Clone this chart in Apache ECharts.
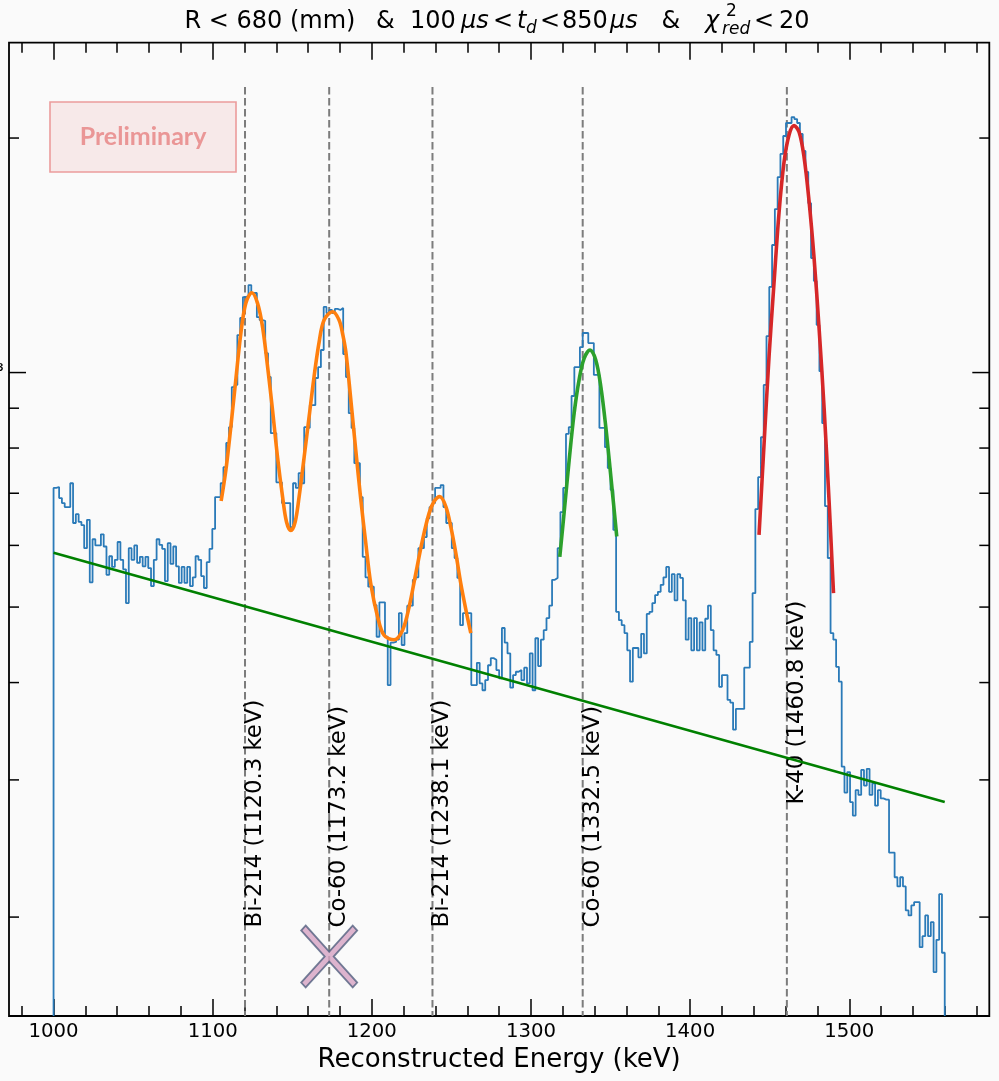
<!DOCTYPE html>
<html>
<head>
<meta charset="utf-8">
<title>Reconstructed energy spectrum</title>
<script src="https://cdn.jsdelivr.net/npm/echarts@6.0.0/dist/echarts.min.js"></script>
<style>
  html, body { margin: 0; padding: 0; background: #fafafa; }
  #chart { width: 999px; height: 1081px; }
</style>
</head>
<body>
<div id="chart"></div>
<script>
// ---------------- data ----------------
// Event counts per bin, 1000–1560 keV, 320 equal bins
const histRange = [1000, 1560];
const counts = [
  711, 713, 690, 680, 672, 672, 721, 641, 658, 643,
  637, 595, 647, 538, 611, 600, 600, 620, 598, 550,
  581, 563, 575, 606, 575, 559, 506, 595, 575, 600,
  570, 580, 564, 580, 561, 532, 575, 611, 601, 594,
  540, 604, 568, 598, 564, 537, 563, 537, 563, 532,
  546, 581, 575, 548, 529, 571, 594, 630, 692, 692,
  721, 756, 812, 851, 958, 964, 1117, 1175, 1250, 1254,
  1295, 1265, 1265, 1178, 1168, 1165, 1059, 987, 836, 836,
  723, 723, 680, 680, 680, 633, 721, 711, 743, 721,
  851, 849, 908, 908, 984, 1016, 1069, 1214, 1192, 1203,
  1192, 1207, 1203, 1210, 1056, 987, 887, 849, 765, 765,
  692, 580, 546, 531, 531, 503, 458, 507, 507, 458,
  397, 450, 451, 454, 491, 447, 463, 502, 502, 542,
  546, 595, 595, 615, 650, 672, 680, 711, 711, 717,
  672, 641, 641, 595, 578, 545, 474, 491, 491, 491,
  397, 397, 424, 399, 391, 403, 421, 430, 428, 415,
  405, 470, 450, 436, 394, 409, 413, 415, 403, 418,
  399, 436, 391, 456, 420, 454, 467, 484, 502, 542,
  545, 595, 662, 711, 834, 851, 933, 1016, 1016, 1078,
  1124, 1124, 1091, 1091, 993, 993, 849, 849, 802, 754,
  707, 628, 493, 481, 474, 463, 440, 401, 443, 443,
  431, 462, 436, 490, 493, 506, 518, 523, 534, 546,
  563, 523, 551, 510, 551, 545, 510, 454, 484, 440,
  484, 440, 478, 440, 483, 502, 467, 440, 434, 395,
  409, 409, 380, 377, 348, 370, 370, 370, 418, 418,
  451, 521, 668, 734, 826, 964, 1114, 1288, 1458, 1621,
  1782, 1908, 2012, 2091, 2091, 2128, 2115, 2091, 2024, 1925,
  1809, 1650, 1403, 1311, 1151, 1004, 861, 674, 578, 463,
  454, 419, 401, 312, 289, 307, 281, 270, 291, 287,
  309, 295, 310, 287, 297, 278, 291, 284, 283, 283,
  242, 242, 225, 219, 225, 219, 204, 201, 207, 209,
  209, 183, 189, 201, 189, 197, 170, 187, 214, 180
];

// Exponential background (straight on the log axis)
const bgEnergy = [1000, 1560];
const bgCounts = [587, 281];

// Bi-214 / Co-60 / Bi-214 multi-peak fit
const fitAEnergy = [1105.3, 1108.3, 1111.4, 1114.5, 1117.7, 1120.8, 1124.6, 1128.2, 1131.3, 1134.5,
  1137.6, 1140.7, 1143.9, 1146.4, 1149.1, 1151.8, 1154.3, 1157.5, 1160.6, 1163.7,
  1166.9, 1170.0, 1175.3, 1179.4, 1181.8, 1183.7, 1186.8, 1189.9, 1193.1, 1196.2,
  1199.3, 1203.6, 1207.7, 1214.0, 1219.3, 1223.4, 1227.6, 1231.8, 1236.0, 1239.1,
  1242.7, 1246.5, 1249.6, 1252.8, 1255.9, 1259.1, 1262.2];
const fitACounts = [684, 750, 852, 978, 1123, 1227, 1266, 1227, 1145, 1017,
  895, 780, 693, 643, 627, 643, 693, 780, 878, 988,
  1095, 1168, 1197, 1168, 1117, 1062, 922, 795, 686, 604,
  536, 486, 460, 454, 467, 500, 552, 609, 660, 683,
  693, 673, 634, 586, 536, 496, 463];

// Co-60 (1332.5 keV) fit
const fitBEnergy = [1318.1, 1320.8, 1324.0, 1327.1, 1330.2, 1333.4, 1337.1, 1340.7, 1343.9, 1347.0, 1350.2, 1353.9];
const fitBCounts = [580, 660, 772, 886, 978, 1043, 1069, 1038, 959, 852, 735, 616];

// K-40 (1460.8 keV) fit
const fitCEnergy = [1443.3, 1446.5, 1449.6, 1452.8, 1455.9, 1459.0, 1462.2, 1465.3, 1468.5, 1471.6,
  1474.7, 1477.9, 1481.0, 1484.2, 1487.3, 1490.1];
const fitCCounts = [619, 812, 1049, 1310, 1607, 1862, 2020, 2075, 2035, 1890,
  1663, 1402, 1143, 900, 685, 521];

// Reference gamma lines
const lineEnergy = [1120.3, 1173.2, 1238.1, 1332.5, 1460.8];
const lineText = ['Bi-214 (1120.3 keV)', 'Co-60 (1173.2 keV)', 'Bi-214 (1238.1 keV)', 'Co-60 (1332.5 keV)', 'K-40 (1460.8 keV)'];
const lineLabelAt = [194, 194, 194, 194, 279];
const lineTop = 2326;

// Cross marker
const crossEnergy = [1173.2];
const crossCounts = [178];

// Axis ticks
const xMajorTicks = [1000, 1100, 1200, 1300, 1400, 1500];
const xMinorTicks = [980, 1020, 1040, 1060, 1080, 1120, 1140, 1160, 1180, 1220, 1240, 1260, 1280,
  1320, 1340, 1360, 1380, 1420, 1440, 1460, 1480, 1520, 1540, 1560, 1580];
const yMajorTicks = [1000];
const yMajorLabels = ['10³'];
const yMinorTicks = [200, 300, 400, 500, 600, 700, 800, 900, 2000];

// ---------------- chart ----------------
const FONT = 'DejaVu Sans';
const X_MIN = 972, X_MAX = 1588;
const Y_MIN = 149.3, Y_MAX = 2651;
const TICK_MAJOR = 17, TICK_MINOR = 10;

const zip = (a, b) => a.map((v, i) => [v, b[i]]);

const binWidth = (histRange[1] - histRange[0]) / counts.length;
const histPoints = [[histRange[0], Y_MIN]];
counts.forEach((c, i) => histPoints.push([histRange[0] + i * binWidth, c]));
histPoints.push([histRange[1], counts[counts.length - 1]]);
histPoints.push([histRange[1], Y_MIN]);

function xAxisDef(position, tickValues, len, withLabels) {
  return {
    type: 'value', min: X_MIN, max: X_MAX, position,
    axisLine: { show: false, onZero: false },
    splitLine: { show: false },
    axisTick: { show: true, inside: true, length: len, customValues: tickValues,
      lineStyle: { color: '#000', width: 1.5 } },
    axisLabel: withLabels ? {
      show: true, customValues: xMajorTicks, formatter: v => String(v),
      fontFamily: FONT, fontSize: 19.7, color: '#000', margin: 6
    } : { show: false },
    name: withLabels ? 'Reconstructed Energy (keV)' : '',
    nameLocation: 'middle', nameGap: 30,
    nameTextStyle: { fontFamily: FONT, fontSize: 26, color: '#000' }
  };
}

function renderYTicks(params, api) {
  const cs = params.coordSys;
  const val = api.value(1);
  const y = api.coord([api.value(0), val])[1];
  const major = api.value(2) === 1;
  const len = major ? TICK_MAJOR : TICK_MINOR;
  const children = [
    { type: 'line', shape: { x1: cs.x, y1: y, x2: cs.x + len, y2: y }, style: { stroke: '#000', lineWidth: 1.5 } },
    { type: 'line', shape: { x1: cs.x + cs.width - len, y1: y, x2: cs.x + cs.width, y2: y }, style: { stroke: '#000', lineWidth: 1.5 } }
  ];
  const li = yMajorTicks.indexOf(val);
  if (major && li >= 0) {
    children.push({ type: 'text', x: cs.x - 5, y,
      style: { text: yMajorLabels[li], fontFamily: FONT, fontSize: 19.7, fill: '#000',
        align: 'right', verticalAlign: 'middle', textAlign: 'right', textVerticalAlign: 'middle' } });
  }
  return { type: 'group', children };
}

function renderRefLine(params, api) {
  const e = api.value(0);
  const top = api.coord([e, lineTop]);
  const bot = api.coord([e, Y_MIN]);
  const lab = api.coord([e, api.value(1)]);
  return {
    type: 'group',
    children: [
      { type: 'line', shape: { x1: top[0], y1: top[1], x2: bot[0], y2: bot[1] },
        style: { stroke: '#7c7c7c', lineWidth: 2, lineDash: [7.5, 3.5] } },
      { type: 'text', x: lab[0] - 1.5, y: lab[1], rotation: Math.PI / 2,
        style: { text: lineText[api.value(2)], fontFamily: FONT, fontSize: 22.8, fill: '#000',
          align: 'left', verticalAlign: 'top', textAlign: 'left', textVerticalAlign: 'top' } }
    ]
  };
}

const yTickData = yMajorTicks.map(v => [X_MIN, v, 1]).concat(yMinorTicks.map(v => [X_MIN, v, 0]));
const refLineData = lineEnergy.map((e, i) => [e, lineLabelAt[i], i]);

// Title built from pieces so the stacked script on chi can be placed
const tNorm = { fontFamily: FONT, fontSize: 24, fill: '#000' };
const tItal = { fontFamily: FONT, fontSize: 24, fontStyle: 'italic', fill: '#000' };
const tSmall = { fontFamily: FONT, fontSize: 17, fill: '#000' };
const tSmallItal = { fontFamily: FONT, fontSize: 17, fontStyle: 'italic', fill: '#000' };
const titleY = 22;
const titleParts = [
  [184.5, 0, 'R < 680 (mm)', tNorm],
  [376, 0, '&', tNorm],
  [410, 0, '100', tNorm],
  [461, 0, 'μs', tItal],
  [493, 0, '<', tNorm],
  [517, 0, 't', tItal],
  [526, 7, 'd', tSmallItal],
  [540, 0, '<', tNorm],
  [562, 0, '850', tNorm],
  [610, 0, 'μs', tItal],
  [661.5, 0, '&', tNorm],
  [705, 0, 'χ', tItal],
  [726, -10, '2', tSmall],
  [722, 8, 'red', tSmallItal],
  [754, 0, '<', tNorm],
  [779, 0, '20', tNorm]
];

const chart = echarts.init(document.getElementById('chart'), null, { renderer: 'canvas' });
chart.setOption({
  backgroundColor: '#fafafa',
  animation: false,
  grid: { left: 9, right: 9.7, top: 42.7, bottom: 65, show: true,
    borderColor: '#000', borderWidth: 1.8, backgroundColor: 'rgba(0,0,0,0)' },
  xAxis: [
    xAxisDef('bottom', xMajorTicks, TICK_MAJOR, true),
    xAxisDef('bottom', xMinorTicks, TICK_MINOR, false),
    xAxisDef('top', xMajorTicks, TICK_MAJOR, false),
    xAxisDef('top', xMinorTicks, TICK_MINOR, false)
  ],
  yAxis: [{
    type: 'log', logBase: 10, min: Y_MIN, max: Y_MAX,
    axisLine: { show: false }, axisTick: { show: false }, axisLabel: { show: false },
    splitLine: { show: false }, minorTick: { show: false }
  }],
  graphic: [
    {
      type: 'group',
      children: titleParts.map(p => ({
        type: 'text', x: p[0], y: titleY + p[1],
        style: Object.assign({ text: p[2], align: 'left', verticalAlign: 'middle',
          textAlign: 'left', textVerticalAlign: 'middle' }, p[3])
      }))
    },
    {
      type: 'rect', shape: { x: 50, y: 102, width: 186, height: 70 },
      style: { fill: '#f7e9e9', stroke: '#ec9c9c', lineWidth: 1.6 }, z: 10
    },
    {
      type: 'text', x: 143, y: 137, z: 11,
      style: { text: 'Preliminary', fontFamily: 'Lato', fontWeight: 'bold', fontSize: 25, fill: '#ea9696',
        align: 'center', verticalAlign: 'middle', textAlign: 'center', textVerticalAlign: 'middle' }
    }
  ],
  series: [
    {
      type: 'custom', name: 'reference lines', coordinateSystem: 'cartesian2d',
      encode: { x: 0, y: 1 }, data: refLineData, renderItem: renderRefLine, z: 1, silent: true
    },
    {
      type: 'line', name: 'spectrum', data: histPoints, step: 'end',
      showSymbol: false, symbol: 'none', z: 2,
      lineStyle: { color: '#2a7ab8', width: 1.8 }
    },
    {
      type: 'line', name: 'background', data: zip(bgEnergy, bgCounts),
      showSymbol: false, symbol: 'none', z: 3,
      lineStyle: { color: '#008000', width: 2.6 }
    },
    {
      type: 'line', name: 'fit 1120–1238', data: zip(fitAEnergy, fitACounts), smooth: 0.35,
      showSymbol: false, symbol: 'none', z: 4,
      lineStyle: { color: '#ff7f0e', width: 3.6 }
    },
    {
      type: 'line', name: 'fit 1332', data: zip(fitBEnergy, fitBCounts), smooth: 0.35,
      showSymbol: false, symbol: 'none', z: 4,
      lineStyle: { color: '#2ca02c', width: 3.6 }
    },
    {
      type: 'line', name: 'fit 1461', data: zip(fitCEnergy, fitCCounts), smooth: 0.35,
      showSymbol: false, symbol: 'none', z: 4,
      lineStyle: { color: '#d62728', width: 3.6 }
    },
    {
      type: 'scatter', name: 'cross', data: zip(crossEnergy, crossCounts), z: 5,
      symbol: 'path://M8,0 L50,42 L92,0 L100,8 L58,50 L100,92 L92,100 L50,58 L8,100 L0,92 L42,50 L0,8 Z',
      symbolSize: [56, 62],
      itemStyle: { color: '#d6a2c3', borderColor: '#52607f', borderWidth: 1.8 }
    },
    {
      type: 'custom', name: 'y ticks', coordinateSystem: 'cartesian2d',
      encode: { x: 0, y: 1 }, data: yTickData, renderItem: renderYTicks, z: 6, silent: true
    }
  ]
});
</script>
</body>
</html>
